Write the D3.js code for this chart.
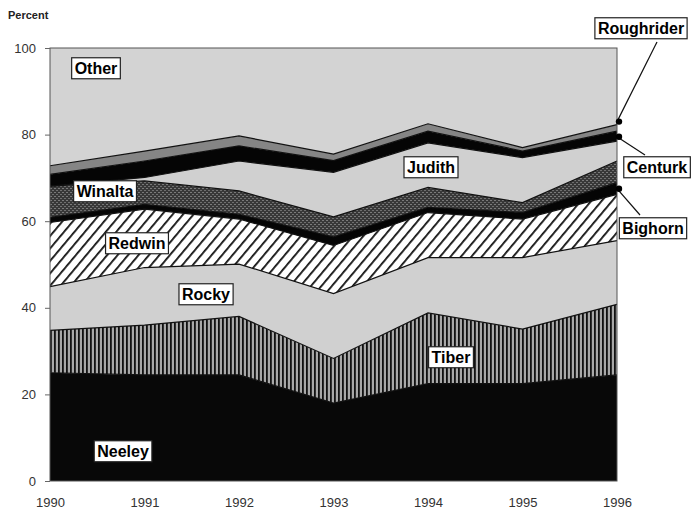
<!DOCTYPE html>
<html>
<head>
<meta charset="utf-8">
<script src="https://cdn.jsdelivr.net/npm/d3@7"></script>
<style>
  body { margin: 0; background: #fff; }
  svg { display: block; }
</style>
</head>
<body>
<script>
// data (percent of acreage per variety)
var years = [1990, 1991, 1992, 1993, 1994, 1995, 1996];
var neeley     = [25.0, 24.5, 24.5, 18.0, 22.5, 22.5, 24.5];
var tiber      = [9.8, 11.5, 13.5, 10.3, 16.3, 12.6, 16.3];
var rocky      = [10.1, 13.3, 12.1, 15.0, 12.8, 16.5, 14.7];
var redwin     = [14.8, 13.5, 10.4, 11.1, 10.4, 8.9, 10.7];
var bighorn    = [1.2, 1.1, 1.1, 2.0, 1.2, 1.5, 2.7];
var winalta    = [7.2, 5.4, 5.4, 4.6, 4.6, 2.3, 5.0];
var judith     = [0.0, 0.8, 6.9, 10.3, 10.3, 10.4, 4.6];
var centurk    = [2.7, 3.8, 3.5, 2.7, 2.7, 1.5, 2.3];
var roughrider = [2.0, 2.3, 2.3, 1.5, 1.7, 0.8, 1.5];
var other      = [27.2, 23.8, 20.3, 24.5, 17.5, 23.0, 17.7];
var yTicks = [0, 20, 40, 60, 80, 100];

var keys = ["Neeley", "Tiber", "Rocky", "Redwin", "Bighorn", "Winalta",
            "Judith", "Centurk", "Roughrider", "Other"];
var series = [neeley, tiber, rocky, redwin, bighorn, winalta,
              judith, centurk, roughrider, other];

var width = 692, height = 515;
var margin = { top: 48, right: 75, bottom: 34, left: 50 };
var chartWidth = width - margin.left - margin.right;
var chartHeight = height - margin.top - margin.bottom;

var fills = {
    Neeley: "#080808",
    Tiber: "url(#vhatch)",
    Rocky: "#d0d0d0",
    Redwin: "url(#dhatch)",
    Bighorn: "#050505",
    Winalta: "url(#stipple)",
    Judith: "#d0d0d0",
    Centurk: "#050505",
    Roughrider: "#858585",
    Other: "#d3d3d3"
};

// build table for d3.stack
var table = years.map(function(y, i) {
    var row = { year: y };
    keys.forEach(function(k, j) { row[k] = series[j][i]; });
    return row;
});

var svg = d3.select("body").append("svg")
    .attr("width", width)
    .attr("height", height);

// fill patterns
var defs = svg.append("defs");

var vh = defs.append("pattern").attr("id", "vhatch")
    .attr("patternUnits", "userSpaceOnUse").attr("width", 4).attr("height", 4);
vh.append("rect").attr("width", 4).attr("height", 4).attr("fill", "#a8a8a8");
vh.append("rect").attr("x", 0).attr("width", 1.8).attr("height", 4).attr("fill", "#111");

var dh = defs.append("pattern").attr("id", "dhatch")
    .attr("patternUnits", "userSpaceOnUse").attr("width", 8).attr("height", 8)
    .attr("patternTransform", "rotate(40)");
dh.append("rect").attr("width", 8).attr("height", 8).attr("fill", "#fff");
dh.append("rect").attr("x", 0).attr("width", 1.8).attr("height", 8).attr("fill", "#111");

var st = defs.append("pattern").attr("id", "stipple")
    .attr("patternUnits", "userSpaceOnUse").attr("width", 4).attr("height", 4);
st.append("rect").attr("width", 4).attr("height", 4).attr("fill", "#383838");
st.append("rect").attr("x", 0).attr("y", 0).attr("width", 2).attr("height", 1).attr("fill", "#7a7a7a");
st.append("rect").attr("x", 2).attr("y", 2).attr("width", 2).attr("height", 1).attr("fill", "#707070");

var g = svg.append("g")
    .attr("transform", "translate(" + margin.left + "," + margin.top + ")");

var xScale = d3.scaleLinear().domain([1990, 1996]).range([0, chartWidth]);
var yScale = d3.scaleLinear().domain([0, 100]).range([chartHeight, 0]);

var stacked = d3.stack().keys(keys)(table);

var area = d3.area()
    .x(function(d) { return xScale(d.data.year); })
    .y0(function(d) { return yScale(d[0]); })
    .y1(function(d) { return yScale(d[1]); });

var topLine = d3.line()
    .x(function(d) { return xScale(d.data.year); })
    .y(function(d) { return yScale(d[1]); });

g.selectAll("path.layer")
    .data(stacked)
    .enter().append("path")
    .attr("class", "layer")
    .attr("fill", function(d) { return fills[d.key]; })
    .attr("d", area);

// boundary lines between layers
g.selectAll("path.edge")
    .data(stacked.slice(0, keys.length - 1))
    .enter().append("path")
    .attr("class", "edge")
    .attr("fill", "none")
    .attr("stroke", "#111")
    .attr("stroke-width", 1.2)
    .attr("d", topLine);

// plot frame
g.append("rect")
    .attr("width", chartWidth)
    .attr("height", chartHeight)
    .attr("fill", "none")
    .attr("stroke", "#555")
    .attr("stroke-width", 1);

// y axis
var yAxis = g.append("g")
    .call(d3.axisLeft(yScale).tickValues(yTicks).tickSize(5).tickFormat(d3.format("d")));
yAxis.select(".domain").remove();
yAxis.selectAll("line").attr("stroke", "#666");
yAxis.selectAll("text")
    .attr("x", -14)
    .attr("fill", "#333")
    .style("font-family", "'Liberation Sans', Arial, sans-serif")
    .style("font-size", "13px");

// x axis
var xAxis = g.append("g")
    .attr("transform", "translate(0," + chartHeight + ")")
    .call(d3.axisBottom(xScale).tickValues(years).tickSize(0).tickFormat(d3.format("d")));
xAxis.select(".domain").remove();
xAxis.selectAll("text")
    .attr("y", 17)
    .attr("fill", "#333")
    .style("font-family", "'Liberation Sans', Arial, sans-serif")
    .style("font-size", "13px");

svg.append("text")
    .attr("x", 8)
    .attr("y", 19)
    .style("font-family", "'Liberation Sans', Arial, sans-serif")
    .style("font-weight", "bold")
    .style("font-size", "11px")
    .attr("fill", "#222")
    .text("Percent");

// leader lines for the thin layers at 1996
var leaders = [
    { tip: [1996, 83.0], to: [657, 42] },
    { tip: [1996, 79.5], to: [645, 155] },
    { tip: [1996, 67.5], to: [640, 215] }
];
leaders.forEach(function(l) {
    var tx = margin.left + xScale(l.tip[0]);
    var ty = margin.top + yScale(l.tip[1]);
    svg.append("line")
        .attr("x1", tx).attr("y1", ty)
        .attr("x2", l.to[0]).attr("y2", l.to[1])
        .attr("stroke", "#111").attr("stroke-width", 1.2);
    svg.append("circle")
        .attr("cx", tx + 2).attr("cy", ty)
        .attr("r", 3.2).attr("fill", "#000");
});

// boxed labels
var labels = [
    { text: "Other", x: 96, y: 68 },
    { text: "Judith", x: 431, y: 167 },
    { text: "Winalta", x: 105, y: 191 },
    { text: "Redwin", x: 137, y: 243 },
    { text: "Rocky", x: 206, y: 294 },
    { text: "Tiber", x: 451, y: 357 },
    { text: "Neeley", x: 123, y: 451 },
    { text: "Roughrider", x: 641, y: 28 },
    { text: "Centurk", x: 657, y: 167 },
    { text: "Bighorn", x: 653, y: 228 }
];

labels.forEach(function(l) {
    var lg = svg.append("g");
    var t = lg.append("text")
        .attr("x", l.x)
        .attr("y", l.y)
        .attr("text-anchor", "middle")
        .attr("dy", "0.36em")
        .style("font-family", "'Liberation Sans', Arial, sans-serif")
        .style("font-weight", "bold")
        .style("font-size", "16px")
        .attr("fill", "#000")
        .text(l.text);
    var bb = t.node().getBBox();
    lg.insert("rect", "text")
        .attr("x", bb.x - 3)
        .attr("y", bb.y - 2)
        .attr("width", bb.width + 6)
        .attr("height", bb.height + 4)
        .attr("fill", "#fff")
        .attr("stroke", "#222")
        .attr("stroke-width", 1.2);
});
</script>
</body>
</html>
